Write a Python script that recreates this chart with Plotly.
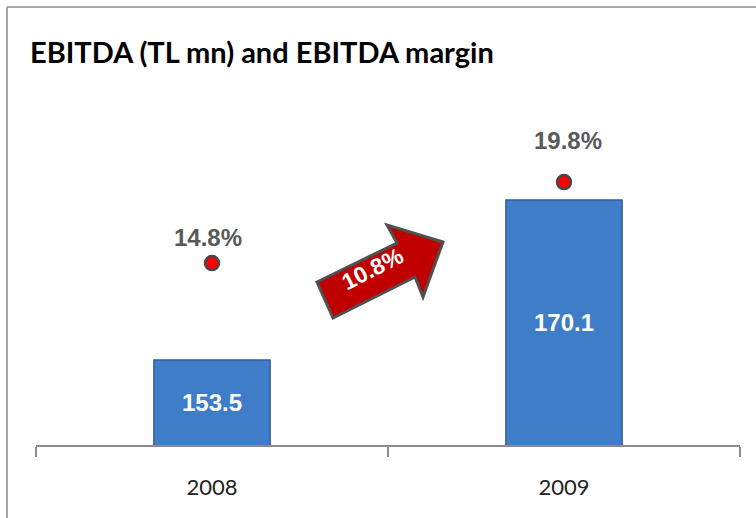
import plotly.graph_objects as go

years = ["2008", "2009"]
ebitda = [153.5, 170.1]
margin = [14.8, 19.8]
growth_label = "10.8%"
title_text = "EBITDA (TL mn) and EBITDA margin"

W, H = 756, 518
L, R, T, B = 36, 16, 100, 73
pw, ph = W - L - R, H - T - B
Y1 = [144.68, 180.47]
Y2 = [3.57, 24.87]


def px(x):
    return (x - L) / pw


def py(y):
    return (H - B - y) / ph


fig = go.Figure()
fig.add_trace(go.Bar(
    x=years, y=ebitda, width=0.33,
    marker=dict(color="#3F7DC8", line=dict(color="#2D5E9C", width=1.5)),
    hoverinfo="skip", yaxis="y",
))
fig.add_trace(go.Scatter(
    x=years, y=margin, mode="markers", yaxis="y2",
    marker=dict(color="#FF0000", size=14, line=dict(color="#474747", width=2.5)),
    hoverinfo="skip",
))

# bar value labels centred in the visible part of each bar
for i, v in enumerate(ebitda):
    fig.add_annotation(x=i, xref="x", y=(Y1[0] + v) / 2, yref="y", text=f"{v:.1f}", showarrow=False,
                       font=dict(family="Liberation Sans", size=24, color="white", weight="bold"))

label_shift = [26, 42]
for i, (m, s) in enumerate(zip(margin, label_shift)):
    fig.add_annotation(x=i, xref="x", y=m, yref="y2", text=f"{m:.1f}%", showarrow=False,
                       yshift=s, xshift=-4 if i == 0 else 4,
                       font=dict(family="Liberation Sans", size=24, color="#595959", weight="bold"))

# growth arrow (decorative)
pts = [(317, 282), (397, 243), (387, 225), (443, 242), (423, 297), (415, 277), (333, 318)]
path = "M " + " L ".join(f"{px(a):.4f},{py(b):.4f}" for a, b in pts) + " Z"
fig.add_shape(type="path", xref="paper", yref="paper", path=path,
              fillcolor="#C00000", line=dict(color="#505050", width=3), layer="above")
fig.add_annotation(xref="paper", yref="paper", x=px(372), y=py(269), text=growth_label,
                   showarrow=False, textangle=-27,
                   font=dict(family="Liberation Sans", size=23, color="white", weight="bold"))

# frame
fig.add_shape(type="line", xref="paper", yref="paper", x0=px(7), y0=py(7), x1=px(7), y1=py(H + 5),
              line=dict(color="#A6A6A6", width=2))
fig.add_shape(type="line", xref="paper", yref="paper", x0=px(7), y0=py(7), x1=px(W + 5), y1=py(7),
              line=dict(color="#A6A6A6", width=2))

fig.add_annotation(xref="paper", yref="paper", x=px(28), y=py(51), xanchor="left", yanchor="middle",
                   text=title_text, showarrow=False,
                   font=dict(family="Lato", size=29, color="black", weight="bold"))

fig.update_layout(
    width=W, height=H, margin=dict(l=L, r=R, t=T, b=B),
    paper_bgcolor="white", plot_bgcolor="white", showlegend=False,
    xaxis=dict(type="category", range=[-0.5, 1.5], showline=True, linecolor="#8C8C8C", linewidth=1.5,
               ticks="outside", tickson="boundaries", ticklen=10, tickcolor="#8C8C8C", tickwidth=1.5,
               ticklabelstandoff=22, showgrid=False,
               tickfont=dict(family="Lato", size=22, color="#222222")),
    yaxis=dict(range=Y1, visible=False, showgrid=False),
    yaxis2=dict(range=Y2, overlaying="y", visible=False, showgrid=False),
)

fig.write_html("out.html", config={"displayModeBar": False},
               post_script="document.body.style.margin='0';")
